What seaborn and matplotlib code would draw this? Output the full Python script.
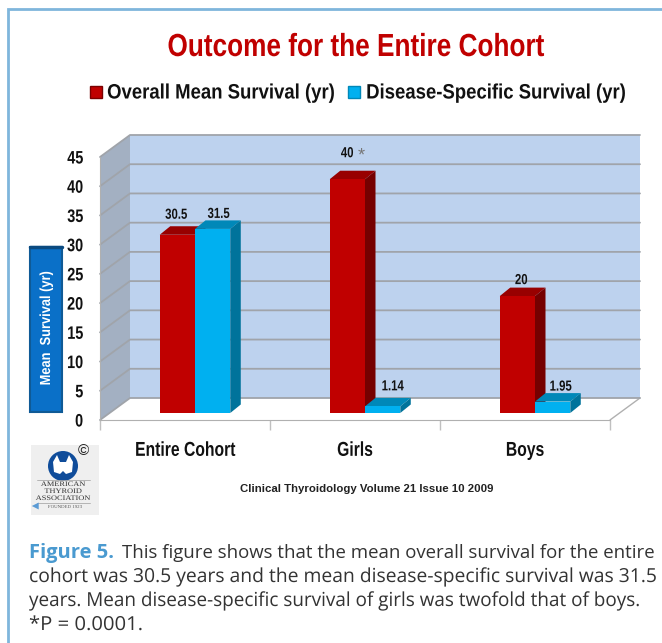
import pandas as pd
import matplotlib
matplotlib.use('Agg')
import matplotlib.pyplot as plt
import seaborn as sns
from matplotlib.patches import Polygon, Rectangle, Circle
from matplotlib.patheffects import AbstractPathEffect
from matplotlib.transforms import Affine2D, ScaledTranslation

groups = ['Entire Cohort', 'Girls', 'Boys']
overall = [30.5, 40, 20]
disease = [31.5, 1.14, 1.95]
bar_labels_overall = ['30.5', '40', '20']
bar_labels_disease = ['31.5', '1.14', '1.95']
yticks = [0, 5, 10, 15, 20, 25, 30, 35, 40, 45]
series_names = ['Overall Mean Survival (yr)', 'Disease-Specific Survival (yr)']
caption_first = 'This figure shows that the mean overall survival for the entire'
caption_rest = ['cohort was 30.5 years and the mean disease-specific survival was 31.5',
                'years. Mean disease-specific survival of girls was twofold that of boys.',
                '*P = 0.0001.']

W, H = 662, 643
DPI = 100


class Squeeze(AbstractPathEffect):
    # the original type is horizontally condensed Arial, no narrow font here
    def __init__(self, sx, anchor='center'):
        super().__init__()
        self.sx = sx
        self.anchor = anchor

    def draw_path(self, renderer, gc, tpath, affine, rgbFace=None):
        ext = tpath.get_extents()
        x = {'left': ext.x0, 'right': ext.x1, 'center': (ext.x0 + ext.x1) / 2}[self.anchor]
        squeeze = Affine2D().translate(-x, 0).scale(self.sx, 1).translate(x, 0)
        renderer.draw_path(gc, tpath, squeeze + affine, rgbFace)


sns.set_style('white')
plt.rcParams['font.family'] = ['Liberation Sans']

df = pd.DataFrame({
    'group': groups * 2,
    'series': [series_names[0]] * 3 + [series_names[1]] * 3,
    'value': overall + disease,
})

fig = plt.figure(figsize=(W / DPI, H / DPI), dpi=DPI, facecolor='white')

# overlay in pixel coords for walls, logo and text
bg = fig.add_axes([0, 0, 1, 1], zorder=0)
bg.set_xlim(0, W)
bg.set_ylim(H, 0)
bg.axis('off')

X0, X1, Y0, Y45 = 100, 610, 420, 157
DX, DY = 30, 22


def ypx(v):
    return Y0 - v * (Y0 - Y45) / 45


# frame
bg.plot([W, 8, 8], [9, 9, H], color='#7fb6dc', lw=2, solid_joinstyle='miter')

# walls
bg.add_patch(Polygon([(X0, Y0), (X0, Y45), (X0 + DX, Y45 - DY), (X0 + DX, Y0 - DY)],
                     fc='#a3b0c2', ec='none'))
bg.add_patch(Rectangle((X0 + DX, Y45 - DY), X1 - X0, Y0 - Y45, fc='#bdd2ee', ec='none'))
bg.plot([X1, X1 + DX, X1 + DX], [Y0, Y0 - DY, Y0 - DY], color='#b0b0b0', lw=1)
for v in yticks:
    y = ypx(v)
    bg.plot([X0, X0 + DX, X1 + DX], [y, y - DY, y - DY], color='#a0a4aa', lw=1.3)

# bars
ax = fig.add_axes([X0 / W, 1 - Y0 / H, (X1 - X0) / W, (Y0 - Y45) / H], zorder=1)
ax.patch.set_alpha(0)
sns.barplot(data=df, x='group', y='value', hue='series', order=groups,
            hue_order=series_names, palette=['#c00000', '#00b0f0'], width=0.415,
            gap=0, saturation=1, legend=False, ax=ax)
ax.set_xlim(-0.5, 2.5)
ax.set_ylim(0, 45)
ax.set_xlabel('')
ax.set_ylabel('')

# data transform first, then nudge in inches
shift = ax.transData + ScaledTranslation(10 / DPI, 7 / DPI, fig.dpi_scale_trans)
ddx = 10.5 * 3 / (X1 - X0)
ddy = 8.5 * 45 / (Y0 - Y45)
faces = [('#980000', '#760000', 2), ('#0088b8', '#00739b', 3)]
texts = bar_labels_overall + bar_labels_disease
label_nudge = [(-1, 20), (0, 26), (4, 16), (6, 15), (10, 20), (8, 15)]

for i, bar in enumerate(ax.patches):
    top_c, side_c, z = faces[i // 3]
    x, w, h = bar.get_x(), bar.get_width(), bar.get_height()
    bar.set_transform(shift)
    bar.set_clip_on(False)
    bar.set_linewidth(0)
    bar.set_zorder(z + 0.5)
    ax.add_patch(Polygon([(x, h), (x + w, h), (x + w + ddx, h + ddy), (x + ddx, h + ddy)],
                         fc=top_c, ec='none', transform=shift, clip_on=False, zorder=z))
    ax.add_patch(Polygon([(x + w, 0), (x + w + ddx, ddy), (x + w + ddx, h + ddy), (x + w, h)],
                         fc=side_c, ec='none', transform=shift, clip_on=False, zorder=z))
    ax.annotate(texts[i], (x + w / 2, h), xycoords=shift, xytext=label_nudge[i],
                textcoords='offset pixels', ha='center', va='center', fontsize=10.5,
                color='#111111', fontweight='bold', annotation_clip=False, zorder=6,
                path_effects=[Squeeze(0.78)])

# star next to the girls value
girls = ax.patches[1]
ax.annotate('*', (girls.get_x() + girls.get_width() / 2, girls.get_height()), xycoords=shift,
            xytext=(14, 23), textcoords='offset pixels', ha='center', va='center',
            fontsize=13, color='#777777', annotation_clip=False, zorder=6)

sns.despine(ax=ax, top=True, right=True)
for s in ['left', 'bottom']:
    ax.spines[s].set_color('#b0b0b0')
ax.set_yticks(yticks)
ax.set_xticks([-0.5, 0.5, 1.5, 2.5], minor=True)
ax.tick_params(axis='y', length=6, width=1, color='#a0a0a0', pad=6, labelsize=13, labelcolor='#111111')
ax.tick_params(axis='x', which='minor', length=7, width=1, color='#c0c0c0', bottom=True)
ax.tick_params(axis='x', which='major', length=0, pad=15, labelsize=14.5, labelcolor='#111111', bottom=False)
for t in ax.get_yticklabels():
    t.set_fontweight('bold')
    t.set_path_effects([Squeeze(0.8, 'right')])
for t in ax.get_xticklabels():
    t.set_fontweight('bold')
    t.set_path_effects([Squeeze(0.78)])

# title and legend
bg.text(356, 48, 'Outcome for the Entire Cohort', ha='center', va='center',
        fontsize=23, color='#c00000', fontweight='bold', path_effects=[Squeeze(0.82)])
bg.add_patch(Rectangle((90, 86), 12, 12, fc='#c00000', ec='#7a0000', lw=1))
bg.text(107, 93, series_names[0], ha='left', va='center', fontsize=15, color='#111111',
        fontweight='bold', path_effects=[Squeeze(0.89, 'left')])
bg.add_patch(Rectangle((348, 86), 12, 12, fc='#00b0f0', ec='#0088b8', lw=1))
bg.text(366, 93, series_names[1], ha='left', va='center', fontsize=15, color='#111111',
        fontweight='bold', path_effects=[Squeeze(0.89, 'left')])

# y axis label box
bg.add_patch(Rectangle((30, 247), 32, 165, fc='#0a70c8', ec='#0f5a96', lw=1.5))
bg.plot([30, 62], [247, 247], color='#0b4a80', lw=2.5)
bg.text(46, 328, 'Mean  Survival (yr)', rotation=90, ha='center', va='center',
        fontsize=10.5, color='white', fontweight='bold', path_effects=[Squeeze(0.88)])

# logo
bg.add_patch(Rectangle((31, 445), 68, 70, fc='#efefef', ec='none'))
bg.add_patch(Circle((63, 466), 15, fc='#0f4c9a', ec='none'))
bg.add_patch(Polygon([(57, 455), (60, 462), (66, 462), (69, 455), (73, 462), (72, 472),
                      (66, 474), (63, 471), (60, 474), (54, 472), (53, 462)], fc='white', ec='none'))
bg.text(83, 451, '©', ha='center', va='center', fontsize=11, color='#222222')
for y, s in zip([484.5, 491.5, 498.5], ['AMERICAN', 'THYROID', 'ASSOCIATION']):
    bg.text(63, y, s, ha='center', va='center', fontsize=5, color='#333333',
            family='Liberation Serif', path_effects=[Squeeze(1.2)])
bg.text(65, 507, 'FOUNDED 1923', ha='center', va='center', fontsize=3.5, color='#555555',
        family='Liberation Serif')
bg.plot([37, 90], [480, 480], color='#aaaaaa', lw=0.6)
bg.plot([37, 90], [503, 503], color='#aaaaaa', lw=0.6)
bg.annotate('', xy=(29, 506), xytext=(39, 506),
            arrowprops=dict(arrowstyle='simple', color='#5b9bd5', lw=0))

# source line
bg.text(240, 489, 'Clinical Thyroidology Volume 21 Issue 10 2009', ha='left', va='center',
        fontsize=8.2, fontweight='bold', color='#222222')

# caption
bg.text(29, 553, 'Figure 5.', ha='left', va='center', fontsize=14.5, fontweight='bold',
        color='#4a9ad0', family='Open Sans')
bg.text(122, 553, caption_first, ha='left', va='center', fontsize=13.4, color='#333333',
        family='Open Sans')
for y, s, sx in zip([577, 601, 625], caption_rest, [1.0, 0.98, 1.05]):
    bg.text(29, y, s, ha='left', va='center', fontsize=13.9, color='#333333',
            family='Open Sans', path_effects=[Squeeze(sx, 'left')])

plt.savefig('out.png', dpi=DPI)
